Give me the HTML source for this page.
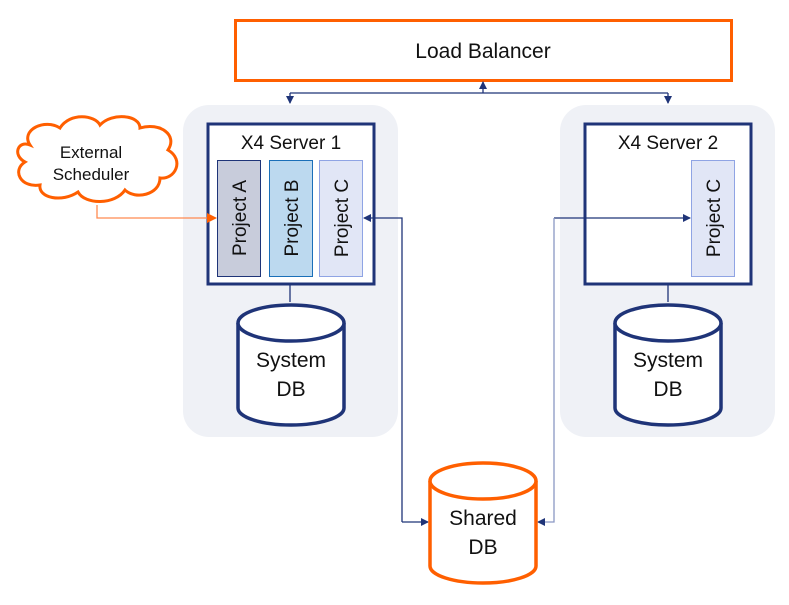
<!DOCTYPE html>
<html><head><meta charset="utf-8"><style>
body{margin:0;background:#fff}
svg text{font-family:"Liberation Sans",Arial,sans-serif;fill:#111}
</style></head><body>
<svg width="789" height="600" viewBox="0 0 789 600" xmlns="http://www.w3.org/2000/svg">
<defs>
<marker id="a" markerWidth="8" markerHeight="8" refX="7" refY="4" orient="auto" markerUnits="userSpaceOnUse"><path d="M0,0 L8,4 L0,8 z" fill="#1f3478"/></marker>
<marker id="o" markerWidth="10" markerHeight="10" refX="9" refY="5" orient="auto" markerUnits="userSpaceOnUse"><path d="M0,0 L10,5 L0,10 z" fill="#ff5f00"/></marker>
</defs>
<rect x="183" y="105" width="215" height="332" rx="26" fill="#eff1f6"/>
<rect x="560" y="105" width="215" height="332" rx="26" fill="#eff1f6"/>
<rect x="235.5" y="20.5" width="496" height="60" fill="#fff" stroke="#ff5f00" stroke-width="3"/>
<text x="483" y="58" font-size="21" text-anchor="middle">Load Balancer</text>
<rect x="208" y="124" width="166" height="160" fill="#fff" stroke="#1f3478" stroke-width="3"/>
<rect x="585" y="124" width="166" height="160" fill="#fff" stroke="#1f3478" stroke-width="3"/>
<text x="291" y="149" font-size="19" text-anchor="middle">X4 Server 1</text>
<text x="668" y="149" font-size="19" text-anchor="middle">X4 Server 2</text>
<rect x="217.5" y="160.5" width="43" height="116" fill="#c8ccdb" stroke="#1f3478"/>
<rect x="269.5" y="160.5" width="43" height="116" fill="#bcd9ef" stroke="#1a6fb8"/>
<rect x="319.5" y="160.5" width="43" height="116" fill="#e1e6f6" stroke="#8fa4e4"/>
<rect x="691.5" y="160.5" width="43" height="116" fill="#e1e6f6" stroke="#8fa4e4"/>
<g font-size="19" text-anchor="middle">
<text transform="translate(246,218) rotate(-90)">Project A</text>
<text transform="translate(298,218) rotate(-90)">Project B</text>
<text transform="translate(348,218) rotate(-90)">Project C</text>
<text transform="translate(720,218) rotate(-90)">Project C</text>
</g>
<g stroke="#1f3478" stroke-width="1.3" fill="none">
<path d="M290,93 H668"/>
<path d="M290,93 V103" marker-end="url(#a)"/>
<path d="M668,93 V103" marker-end="url(#a)"/>
<path d="M483,93 V82" marker-end="url(#a)"/>
<path d="M290,285 V302"/><path d="M668,285 V302"/>
<path d="M402,522 V218 H364" marker-end="url(#a)"/>
<path d="M402,522 H428" marker-end="url(#a)"/>
<path d="M554,218 H690" marker-end="url(#a)"/>
<path d="M554,218 V522 H538" marker-end="url(#a)" stroke="#8a98c4"/>
</g>
<path d="M97,205 V218 H216" stroke="#ff8a50" stroke-width="1.3" fill="none" marker-end="url(#o)"/>
<path d="M30,145 C20,130 45,118 60,128 C70,112 95,115 100,125 C112,112 140,115 140,128 C160,122 178,135 168,150 C185,160 175,180 160,178 C160,195 135,200 125,190 C115,205 85,205 78,192 C62,203 38,198 40,185 C20,188 12,170 25,162 C12,155 18,140 30,145 Z" fill="#fff" stroke="#ff5f00" stroke-width="3"/>
<text x="91" y="158" font-size="17" text-anchor="middle">External</text>
<text x="91" y="180" font-size="17" text-anchor="middle">Scheduler</text>
<g stroke-width="3.5" fill="#fff">
<g stroke="#1f3478">
<path d="M238,323 V408 A53,17 0 0 0 344,408 V323"/><ellipse cx="291" cy="323" rx="53" ry="18"/>
<path d="M615,323 V408 A53,17 0 0 0 721,408 V323"/><ellipse cx="668" cy="323" rx="53" ry="18"/>
</g>
<g stroke="#ff5f00">
<path d="M430,481 V566 A53,17 0 0 0 536,566 V481"/><ellipse cx="483" cy="481" rx="53" ry="18"/>
</g>
</g>
<g font-size="21" text-anchor="middle">
<text x="291" y="367">System</text><text x="291" y="396">DB</text>
<text x="668" y="367">System</text><text x="668" y="396">DB</text>
<text x="483" y="525">Shared</text><text x="483" y="554">DB</text>
</g>
</svg>
</body></html>
